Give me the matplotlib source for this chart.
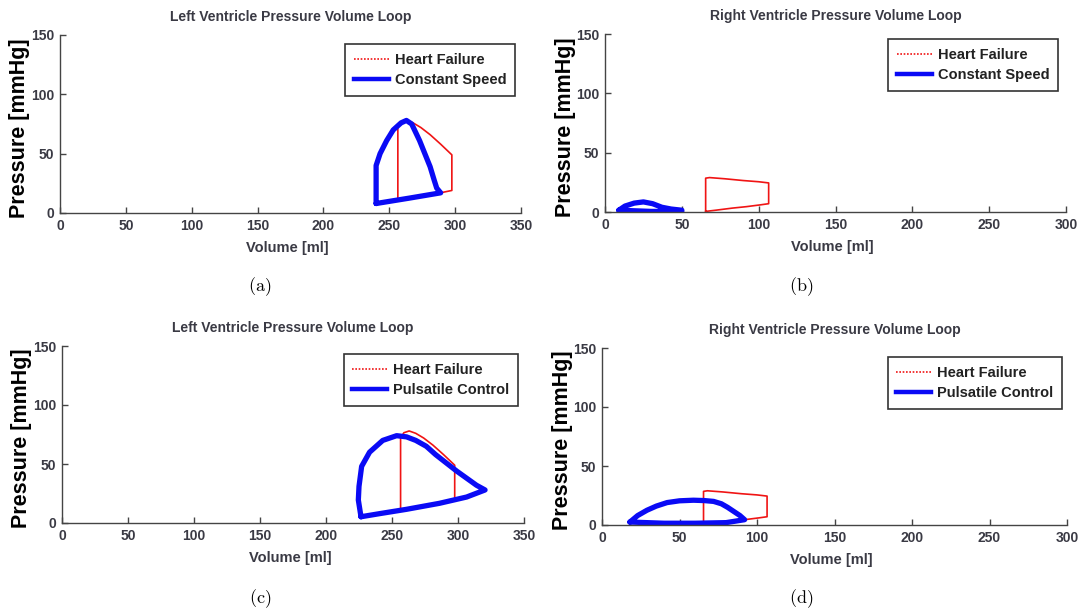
"""
Pressure-volume loops, LV / RV — heart failure vs constant speed / pulsatile control.
Four panels laid out like the original 2x2 figure, saved to out.png.
"""

import matplotlib
matplotlib.use("Agg")
import matplotlib.pyplot as plt
from matplotlib.lines import Line2D

# ── Canvas (pixels) ───────────────────────────────────────────────────────────
W, H = 1081, 613
DPI = 100

# ── Data: volume [ml], pressure [mmHg] ───────────────────────────────────────
# heart failure loops (same in both rows)
lv_hf_vol = [256.5, 256.5, 259, 263, 268, 274, 281, 289, 297.5, 297.5, 291, 275, 256.5]
lv_hf_p   = [11.5, 72, 76.5, 78, 76, 72, 66, 58, 49, 19, 17.5, 14.5, 11.5]
rv_hf_vol = [65.5, 65.5, 68, 78, 90, 100, 106.5, 106.5, 101, 92, 83, 72, 65.5]
rv_hf_p   = [0.5, 28.5, 29, 28, 26.5, 25.5, 24.5, 7, 6, 4.5, 3.3, 1.5, 0.5]

# constant speed
lv_cs_vol = [240, 240, 243, 248, 253, 259, 263, 267, 273, 277, 281, 284, 286, 289, 265, 240]
lv_cs_p   = [8, 40, 50, 61, 70, 76, 78, 75, 61, 50, 39, 28, 21, 17, 12.5, 8]
rv_cs_vol = [9, 13, 19, 25, 31, 37, 43, 50, 50, 30, 9]
rv_cs_p   = [1.5, 5, 7.5, 8.5, 7, 4, 2.5, 1.5, 0.5, 0.5, 1.5]

# pulsatile control
lv_pc_vol = [226.5, 224.5, 225, 227, 233, 243, 253.5, 261, 268, 276, 283, 291, 299, 306.5, 314, 320.5,
             306.5, 286, 261, 241, 226.5]
lv_pc_p   = [5.3, 19.5, 31, 48, 60, 70, 74, 73, 70, 65, 58, 51, 44, 38, 32, 28,
             22, 16.7, 11.6, 8, 5.3]
rv_pc_vol = [18, 23, 29, 35, 42, 50, 59, 66, 72, 77, 81, 85, 89, 92, 80, 60, 40, 18]
rv_pc_p   = [2.5, 8, 12.5, 16, 19, 20.5, 21, 20.7, 20, 18, 15, 11.5, 8, 4.5, 2, 1.5, 1.5, 2.5]

LV_XTICKS = [0, 50, 100, 150, 200, 250, 300, 350]
RV_XTICKS = [0, 50, 100, 150, 200, 250, 300]
YTICKS = [0, 50, 100, 150]

RED  = "#f01414"
BLUE = "#0a0af5"
GREY = "#3a3a44"

NARROW = ["Liberation Sans Narrow", "Liberation Sans", "DejaVu Sans"]
BOLD   = ["Liberation Sans", "DejaVu Sans"]

plt.rcParams.update({
    "font.family":      NARROW,
    "font.weight":      "bold",
    "mathtext.fontset": "cm",
    "axes.linewidth":   1.0,
    "axes.edgecolor":   "#444444",
    "axes.spines.top":  False,
    "axes.spines.right": False,
})

# panel layout: axes box in pixels (left, top, right, bottom)
PANELS = [
    dict(box=(60, 35, 521, 213), title="Left Ventricle Pressure Volume Loop",
         hf=(lv_hf_vol, lv_hf_p), ctl=(lv_cs_vol, lv_cs_p), ctl_label="Constant Speed",
         xmax=350, xticks=LV_XTICKS, leg=(515, 44), cap="(a)", cap_xy=(260, 287)),
    dict(box=(605, 34, 1066, 212), title="Right Ventricle Pressure Volume Loop",
         hf=(rv_hf_vol, rv_hf_p), ctl=(rv_cs_vol, rv_cs_p), ctl_label="Constant Speed",
         xmax=300, xticks=RV_XTICKS, leg=(1058, 39), cap="(b)", cap_xy=(801, 287)),
    dict(box=(62, 346, 524, 523), title="Left Ventricle Pressure Volume Loop",
         hf=(lv_hf_vol, lv_hf_p), ctl=(lv_pc_vol, lv_pc_p), ctl_label="Pulsatile Control",
         xmax=350, xticks=LV_XTICKS, leg=(518, 354), cap="(c)", cap_xy=(260, 599)),
    dict(box=(602, 348, 1067, 525), title="Right Ventricle Pressure Volume Loop",
         hf=(rv_hf_vol, rv_hf_p), ctl=(rv_pc_vol, rv_pc_p), ctl_label="Pulsatile Control",
         xmax=300, xticks=RV_XTICKS, leg=(1062, 357), cap="(d)", cap_xy=(801, 599)),
]


def fx(x):
    return x / W


def fy(y):
    return 1 - y / H


fig = plt.figure(figsize=(W / DPI, H / DPI), dpi=DPI, facecolor="white")

for p in PANELS:
    l, t, r, b = p["box"]
    ax = fig.add_axes([fx(l), fy(b), (r - l) / W, (b - t) / H])

    ax.plot(*p["hf"], color=RED, linewidth=1.2, solid_joinstyle="round")
    ax.plot(*p["ctl"], color=BLUE, linewidth=3.8, solid_joinstyle="round",
            solid_capstyle="round")

    ax.set_xlim(0, p["xmax"])
    ax.set_ylim(0, 150)
    ax.set_xticks(p["xticks"])
    ax.set_yticks(YTICKS)
    ax.tick_params(direction="in", length=4, width=1, color="#444444",
                   labelcolor=GREY, labelsize=10, pad=4)

    # titles / labels placed in figure pixels
    cx = (l + r) / 2
    fig.text(fx(cx), fy(t - 18), p["title"], ha="center", va="center",
             fontsize=10, color=GREY)
    fig.text(fx(cx - 3), fy(b + 35), "Volume [ml]", ha="center", va="center",
             fontsize=10.5, color=GREY)
    fig.text(fx(l - 40), fy((t + b) / 2 + 4), "Pressure [mmHg]", ha="center", va="center",
             rotation=90, fontsize=15.5, family=BOLD, color="black")
    fig.text(fx(p["cap_xy"][0]), fy(p["cap_xy"][1]), r"$\mathrm{%s}$" % p["cap"],
             ha="center", va="center", fontsize=13, color="black")

    handles = [
        Line2D([], [], color=RED, linewidth=1.2, linestyle=(0, (1, 1))),
        Line2D([], [], color=BLUE, linewidth=3.2),
    ]
    leg = ax.legend(handles, ["Heart Failure", p["ctl_label"]],
                    loc="upper right", bbox_to_anchor=(fx(p["leg"][0]), fy(p["leg"][1])),
                    bbox_transform=fig.transFigure, borderaxespad=0,
                    fontsize=10.5, handlelength=2.4, handletextpad=0.4,
                    labelspacing=0.45, borderpad=0.6, fancybox=False,
                    framealpha=1, edgecolor="#333333")
    leg.get_frame().set_linewidth(1.2)
    for txt in leg.get_texts():
        txt.set_color("#222222")

fig.savefig("out.png", dpi=DPI, facecolor="white")
